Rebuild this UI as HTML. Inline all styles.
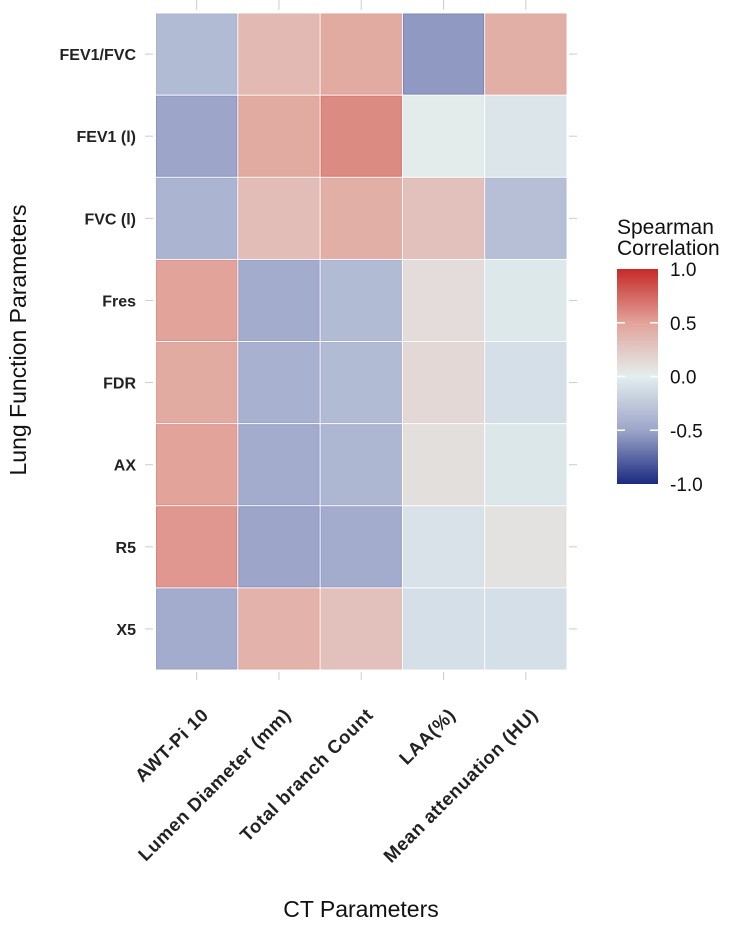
<!DOCTYPE html>
<html><head><meta charset="utf-8"><style>
body{margin:0;background:#fff;}
svg{display:block;font-family:"Liberation Sans",Arial,sans-serif;}
</style></head><body>
<svg id="chart" width="750" height="929">
<g id="grid"></g><g id="tiles"></g><g id="ylabels"></g><g id="xlabels"></g>
<text x="0" y="0" transform="translate(26,340) rotate(-90)" text-anchor="middle" font-size="23" fill="#111">Lung Function Parameters</text>
<text x="361" y="917" text-anchor="middle" font-size="23" fill="#111">CT Parameters</text>
<g>
<text x="617" y="234" font-size="21" fill="#111">Spearman</text>
<text x="617" y="255" font-size="21" fill="#111">Correlation</text>
<defs><linearGradient id="lg" x1="0" y1="0" x2="0" y2="1">
<stop offset="0" stop-color="#c62a28"/><stop offset="0.25" stop-color="#e2a39a"/><stop offset="0.5" stop-color="#e3eeee"/><stop offset="0.75" stop-color="#9da5c9"/><stop offset="1" stop-color="#1a2a80"/></linearGradient></defs>
<rect x="617" y="269" width="41" height="215" fill="url(#lg)"/>
<g id="legticks"></g>
</g>
</svg>
<script>
const rows=["FEV1/FVC","FEV1 (l)","FVC (l)","Fres","FDR","AX","R5","X5"];
const cols=["AWT-Pi 10","Lumen Diameter (mm)","Total branch Count","LAA(%)","Mean attenuation (HU)"];
const rowFEV1FVC=[-0.35,0.35,0.45,-0.55,0.42];
const rowFEV1=[-0.5,0.45,0.6,0.02,-0.06];
const rowFVC=[-0.4,0.33,0.42,0.3,-0.32];
const rowFres=[0.5,-0.45,-0.35,0.12,-0.04];
const rowFDR=[0.45,-0.42,-0.35,0.15,-0.1];
const rowAX=[0.5,-0.45,-0.38,0.1,-0.05];
const rowR5=[0.55,-0.5,-0.45,-0.08,0.08];
const rowX5=[-0.45,0.4,0.3,-0.1,-0.1];
const values=[rowFEV1FVC,rowFEV1,rowFVC,rowFres,rowFDR,rowAX,rowR5,rowX5];
const legendTicks=[1.0,0.5,0.0,-0.5,-1.0];
const NS="http://www.w3.org/2000/svg";
const X0=155.5,X1=567,Y0=13,Y1=670;
const cw=(X1-X0)/cols.length,rh=(Y1-Y0)/rows.length;
const xScale=i=>X0+i*cw, yScale=j=>Y0+j*rh;
const legY=v=>376.5-v*107.5;
const stops=[[-1,[26,42,128]],[-0.5,[157,165,201]],[0,[227,238,238]],[0.5,[226,163,154]],[1,[198,42,40]]];
function color(v){v=Math.max(-1,Math.min(1,v));for(let k=0;k<stops.length-1;k++){const [a,ca]=stops[k],[b,cb]=stops[k+1];if(v<=b){const t=(v-a)/(b-a);return 'rgb('+ca.map((c,i)=>Math.round(c+(cb[i]-c)*t)).join(',')+')';}}}
function mk(tag,attrs,parent){const e=document.createElementNS(NS,tag);for(const k in attrs)e.setAttribute(k,attrs[k]);parent.appendChild(e);return e;}
const g=document.getElementById('grid');
cols.forEach((c,i)=>{const x=xScale(i)+cw/2;
 const l=mk('line',{x1:x,x2:x,y1:0,y2:10,stroke:'#ccc','stroke-width':1},g);
 const l2=mk('line',{x1:x,x2:x,y1:672,y2:680,stroke:'#ccc','stroke-width':1},g);});
rows.forEach((r,j)=>{const y=yScale(j)+rh/2;
 const l=mk('line',{x1:145,x2:153,y1:y,y2:y,stroke:'#ccc','stroke-width':1},g);
 const l2=mk('line',{x1:569,x2:577,y1:y,y2:y,stroke:'#ccc','stroke-width':1},g);});
const tg=document.getElementById('tiles');
values.forEach((row,j)=>row.forEach((v,i)=>{
 const r=mk('rect',{x:xScale(i)+1,y:yScale(j)+1,width:cw-2,height:rh-2,fill:color(v),stroke:color(v*1.15),'stroke-width':1},tg);
 
 }));
const yl=document.getElementById('ylabels');
rows.forEach((r,j)=>{const t=mk('text',{x:136,y:yScale(j)+rh/2+6,'text-anchor':'end','font-size':16,'font-weight':'bold',fill:'#222'},yl);t.textContent=r;
 
 });
const xl=document.getElementById('xlabels');
cols.forEach((c,i)=>{const x=xScale(i)+cw/2+13,y=716;
 const t=mk('text',{x:0,y:0,transform:'translate('+x+','+y+') rotate(-45)','text-anchor':'end','font-size':18.5,'font-weight':'bold','letter-spacing':'0.6',fill:'#222'},xl);t.textContent=c;
 
 });
const lt=document.getElementById('legticks');
legendTicks.forEach(v=>{const y=legY(v);
 if(Math.abs(v)<1){const a=mk('line',{x1:617,x2:625,y1:y,y2:y,stroke:'#fff','stroke-width':1.5},lt);
 const b=mk('line',{x1:650,x2:658,y1:y,y2:y,stroke:'#fff','stroke-width':1.5},lt);}
 const t=mk('text',{x:670,y:y+7,'font-size':19,fill:'#111'},lt);t.textContent=v.toFixed(1);
 
 });
</script>
</body></html>
